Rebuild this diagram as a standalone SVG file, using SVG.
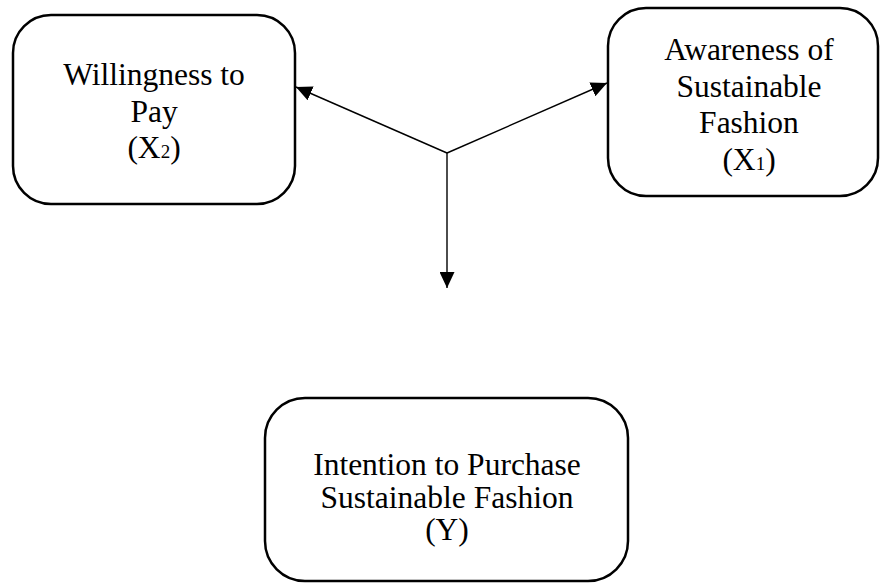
<svg xmlns="http://www.w3.org/2000/svg" width="880" height="584" viewBox="0 0 880 584">
  <defs>
    <style>
      .box { fill: #ffffff; stroke: #000000; stroke-width: 2.5; }
      .lbl { font-family: "Liberation Serif", "Times New Roman", serif; font-size: 31.5px; fill: #000000; text-anchor: middle; }
      .sub { font-size: 19px; }
      .conn { stroke: #000000; stroke-width: 1.4; fill: none; }
    </style>
    <marker id="arrow" viewBox="0 0 16 15" refX="16" refY="7.5" markerWidth="16" markerHeight="15" markerUnits="userSpaceOnUse" orient="auto">
      <path d="M0,0 L16,7.5 L0,15 Z" fill="#000000"/>
    </marker>
  </defs>
  <rect width="880" height="584" fill="#ffffff"/>

  <g id="connectors">
    <line class="conn" x1="447" y1="153" x2="296" y2="87" marker-end="url(#arrow)"/>
    <line class="conn" x1="447" y1="153" x2="607" y2="83" marker-end="url(#arrow)"/>
    <line class="conn" x1="447" y1="153" x2="447" y2="288" marker-end="url(#arrow)"/>
  </g>

  <g id="node-willingness">
    <rect class="box" x="13" y="15" width="282" height="189" rx="38" ry="38"/>
    <text class="lbl" x="154" y="85">Willingness to</text>
    <text class="lbl" x="154" y="122">Pay</text>
    <text class="lbl" x="154" y="158">(X<tspan class="sub">2</tspan>)</text>
  </g>

  <g id="node-awareness">
    <rect class="box" x="608" y="8" width="270" height="188" rx="38" ry="38"/>
    <text class="lbl" x="749" y="60">Awareness of</text>
    <text class="lbl" x="749" y="97">Sustainable</text>
    <text class="lbl" x="749" y="133">Fashion</text>
    <text class="lbl" x="749" y="170">(X<tspan class="sub">1</tspan>)</text>
  </g>

  <g id="node-intention">
    <rect class="box" x="265" y="398" width="363" height="183" rx="40" ry="40"/>
    <text class="lbl" x="447" y="475">Intention to Purchase</text>
    <text class="lbl" x="447" y="508">Sustainable Fashion</text>
    <text class="lbl" x="447" y="540">(Y)</text>
  </g>
</svg>
